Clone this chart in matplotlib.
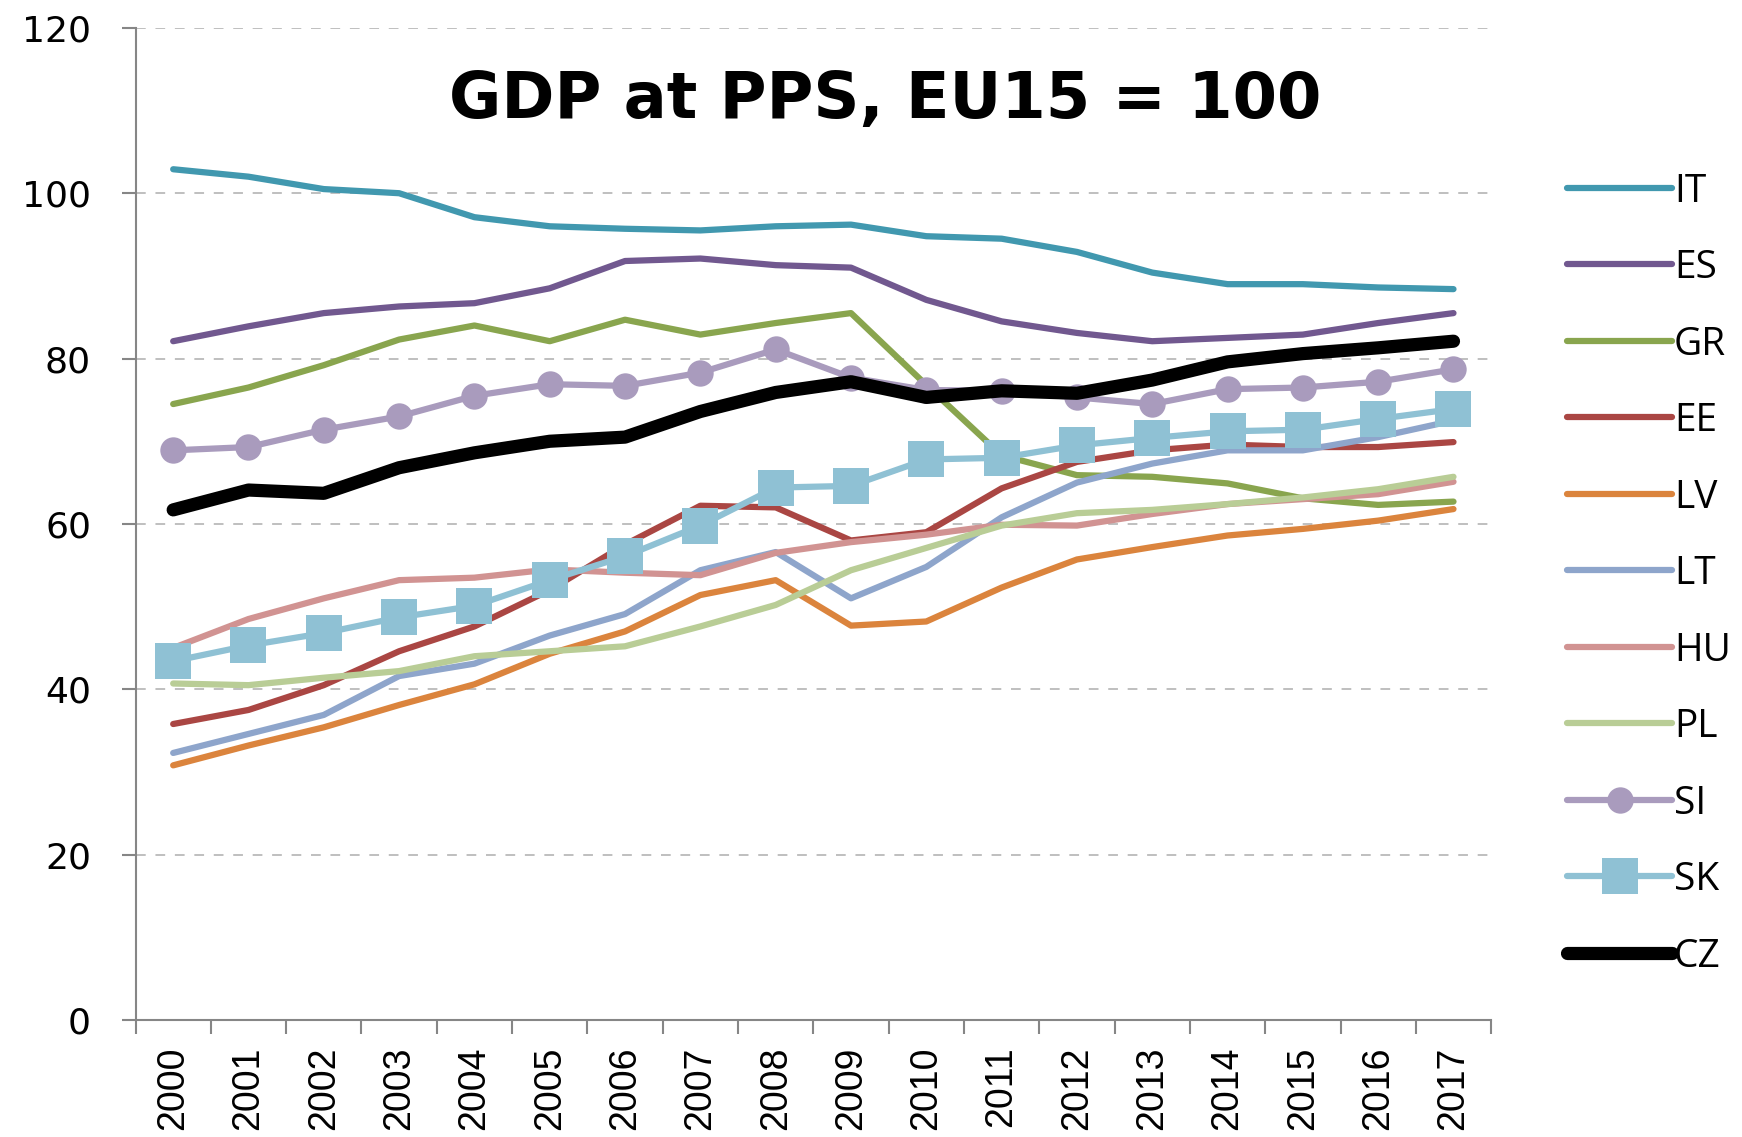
import numpy as np
import matplotlib
matplotlib.use('Agg')
import matplotlib.pyplot as plt

# data (GDP at PPS, EU15 = 100)
years = [str(y) for y in range(2000, 2018)]
IT = [102.9, 102.0, 100.5, 100.0, 97.1, 96.0, 95.7, 95.5, 96.0, 96.2, 94.8, 94.5, 92.9, 90.4, 89.0, 89.0, 88.6, 88.4]
ES = [82.1, 83.9, 85.5, 86.3, 86.7, 88.5, 91.8, 92.1, 91.3, 91.0, 87.1, 84.5, 83.1, 82.1, 82.5, 82.9, 84.3, 85.5]
GR = [74.5, 76.5, 79.2, 82.3, 84.0, 82.1, 84.7, 82.9, 84.3, 85.5, 76.8, 68.3, 65.9, 65.7, 64.9, 63.1, 62.3, 62.7]
EE = [35.8, 37.5, 40.5, 44.6, 47.6, 52.0, 57.5, 62.2, 62.0, 58.0, 59.0, 64.3, 67.5, 68.9, 69.6, 69.3, 69.3, 69.9]
LV = [30.8, 33.2, 35.4, 38.1, 40.6, 44.3, 47.0, 51.4, 53.2, 47.7, 48.2, 52.3, 55.7, 57.2, 58.6, 59.4, 60.4, 61.8]
LT = [32.3, 34.6, 36.9, 41.6, 43.1, 46.5, 49.1, 54.4, 56.6, 51.0, 54.8, 60.8, 65.0, 67.3, 68.9, 68.9, 70.5, 72.5]
HU = [45.0, 48.5, 51.0, 53.2, 53.5, 54.5, 54.1, 53.8, 56.5, 57.8, 58.7, 59.9, 59.8, 61.2, 62.4, 63.0, 63.6, 65.1]
PL = [40.7, 40.5, 41.4, 42.2, 44.0, 44.6, 45.2, 47.6, 50.2, 54.4, 57.1, 59.8, 61.3, 61.7, 62.4, 63.2, 64.2, 65.7]
SI = [68.9, 69.3, 71.4, 73.0, 75.5, 76.9, 76.7, 78.3, 81.1, 77.7, 76.2, 76.1, 75.3, 74.5, 76.3, 76.5, 77.2, 78.7]
SK = [43.4, 45.3, 46.8, 48.7, 50.1, 53.2, 56.1, 59.8, 64.4, 64.6, 67.8, 68.0, 69.5, 70.4, 71.2, 71.4, 72.7, 73.9]
CZ = [61.7, 64.1, 63.7, 66.8, 68.6, 70.0, 70.5, 73.6, 75.9, 77.2, 75.3, 76.1, 75.8, 77.4, 79.6, 80.6, 81.3, 82.1]

names = ['IT', 'ES', 'GR', 'EE', 'LV', 'LT', 'HU', 'PL', 'SI', 'SK', 'CZ']
series = [IT, ES, GR, EE, LV, LT, HU, PL, SI, SK, CZ]
colors = ['#4198AF', '#71588F', '#89A54E', '#AA4643', '#DB843D', '#8EA5CB',
          '#D19392', '#B9CD96', '#A99BBD', '#8FC1D4', '#000000']

plt.rcParams['font.family'] = ['Liberation Sans', 'DejaVu Sans']

fig = plt.figure(figsize=(17.42, 11.37), dpi=100)
ax = fig.add_axes([0.0778, 0.1029, 0.856 - 0.0778, 0.9755 - 0.1029])

x = np.arange(len(years))
for name, vals, c in zip(names, series, colors):
    kw = dict(color=c, lw=4.5, solid_capstyle='round', solid_joinstyle='round', label=name)
    if name == 'SI':
        kw.update(marker='o', markersize=19, markeredgewidth=0)
    elif name == 'SK':
        kw.update(marker='s', markersize=26, markeredgewidth=0)
    elif name == 'CZ':
        kw.update(lw=9.5)
    ax.plot(x, vals, **kw)

ax.set_ylim(0, 120)
ax.set_xlim(-0.5, len(years) - 0.5)
ax.set_yticks(np.arange(0, 121, 20))
ax.yaxis.grid(True, color='#BFBFBF', lw=1.4, dashes=(5, 5))
ax.set_axisbelow(True)

# category boundaries get the ticks, labels sit in the middle
ax.set_xticks(np.arange(-0.5, len(years), 1))
ax.set_xticklabels([])
ax.set_xticks(x, minor=True)
ax.set_xticklabels(years, minor=True, rotation=90, fontsize=27)
ax.tick_params(axis='x', which='major', length=10, width=1.5, color='#868686', direction='out')
ax.tick_params(axis='x', which='minor', length=0, pad=19)
ax.tick_params(axis='y', length=10, width=1.5, color='#868686', pad=22)
for lab in ax.get_yticklabels():
    lab.set_family('DejaVu Sans')
    lab.set_fontsize(26)

for s in ['top', 'right']:
    ax.spines[s].set_visible(False)
for s in ['left', 'bottom']:
    ax.spines[s].set_color('#868686')
    ax.spines[s].set_linewidth(1.5)

fig.text(0.5083, 0.8965, 'GDP at PPS, EU15 = 100', ha='center', va='baseline',
         fontsize=46, fontweight='bold', family='DejaVu Sans')

fig.legend(loc='center left', bbox_to_anchor=(0.8996, 0.4951), bbox_transform=fig.transFigure,
           frameon=False, handlelength=2.7, handletextpad=0.05,
           labelspacing=0.99, borderpad=0, borderaxespad=0, numpoints=1,
           prop={'family': 'Open Sans', 'size': 28})

fig.savefig('out.png', dpi=100)
